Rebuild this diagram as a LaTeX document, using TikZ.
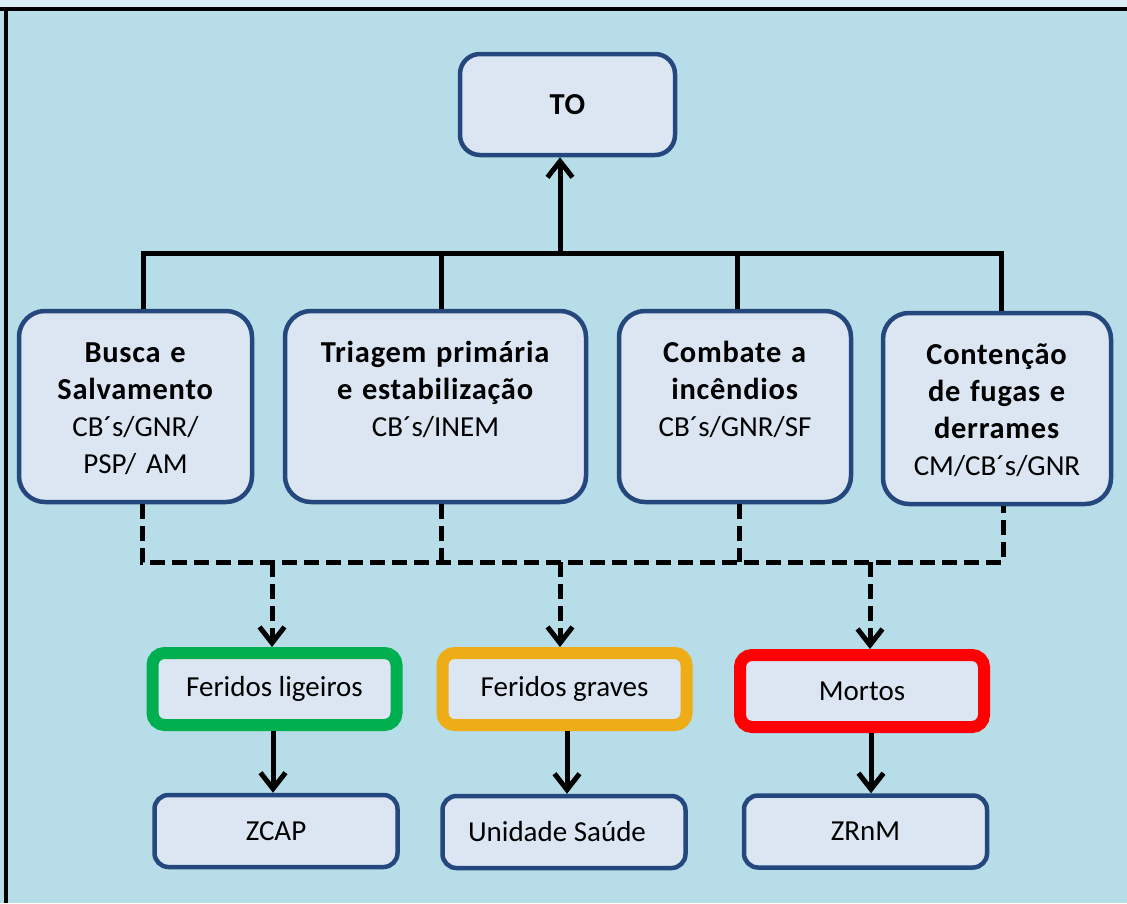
\documentclass[tikz,border=0pt]{standalone}
\usepackage{fontspec}
\setmainfont{Carlito}[BoldFeatures={Scale=1.05, LetterSpace=2.5}]
\usetikzlibrary{arrows.meta}

\definecolor{bgblue}{RGB}{183,221,232}
\definecolor{topstrip}{RGB}{219,238,243}
\definecolor{boxfill}{RGB}{220,230,242}
\definecolor{boxline}{RGB}{36,72,126}
\definecolor{lightgreen}{RGB}{0,176,80}
\definecolor{graveorange}{RGB}{238,173,23}
\definecolor{mortred}{RGB}{255,0,0}

\newcommand{\diagfont}{\fontsize{29}{37}\selectfont}
\newcommand{\boxlines}[1]{\parbox[c][139pt][t]{\linewidth}{\centering\strut #1}}

\begin{document}
\begin{tikzpicture}[x=1pt, y=-1pt,
        blockbox/.style={draw=boxline, line width=4.5pt, fill=boxfill, inner sep=0pt, align=center},
        taskbox/.style={blockbox, rounded corners=26pt, text width=#1, minimum height=191pt},
        endbox/.style={blockbox, rounded corners=14pt, minimum width=243pt, minimum height=72pt},
        casebox/.style={blockbox, line width=12pt, rounded corners=12pt, minimum width=244pt, minimum height=72pt},
        link/.style={black, line width=5pt},
        dlink/.style={black, line width=5pt, dash pattern=on 15pt off 7pt},
        arrowed/.style={-{Straight Barb[length=16pt, width=25pt]}},
        font=\diagfont]
        % Background and frame
        \fill[bgblue] (0,0) rectangle (1127,903);
        \fill[topstrip] (0,0) rectangle (1127,7);
        \fill[black] (0,7) rectangle (1127,11);
        \fill[black] (4,7) rectangle (8,903);
        \useasboundingbox (0,0) rectangle (1127,903);

        % Nodes
        \node[blockbox, rounded corners=20pt, minimum width=215pt, minimum height=101pt, font=\diagfont\bfseries] (to) at (567.5,104.5) {TO};

        \node[taskbox=233pt] (busca) at (135.5,406.5) {\boxlines{\textbf{Busca e}\\\textbf{Salvamento}\\CB´s/GNR/\\PSP/ AM}};
        \node[taskbox=301pt] (triagem) at (435.5,406.5) {\boxlines{\textbf{Triagem primária}\\\textbf{e estabilização}\\CB´s/INEM}};
        \node[taskbox=232pt] (combate) at (735,406.5) {\boxlines{\textbf{Combate a}\\\textbf{incêndios}\\CB´s/GNR/SF}};
        \node[taskbox=228pt] (contencao) at (997,408.5) {\boxlines{\textbf{Contenção}\\\textbf{de fugas e}\\\textbf{derrames}\\CM/CB´s/GNR}};

        \node[casebox, draw=lightgreen] (ligeiros) at (274.5,689) {Feridos ligeiros};
        \node[casebox, draw=graveorange] (graves) at (564.5,689) {Feridos graves};
        \node[casebox, draw=mortred] (mortos) at (862,691) {Mortos};

        \node[endbox] (zcap) at (276,831) {ZCAP};
        \node[endbox] (saude) at (564,832) {Unidade Saúde\hspace{14pt}};
        \node[endbox] (zrnm) at (865.5,831.5) {ZRnM};

        % Solid tree up to TO
        \coordinate (hub) at (560,253);
        \coordinate (s1) at (143,253);
        \coordinate (s2) at (441,253);
        \coordinate (s3) at (737,253);
        \coordinate (s4) at (1001,253);

        \draw[link] (s1 |- busca.north) -- (s1) -- (s4) -- (s4 |- contencao.north);
        \draw[link] (s2) -- (s2 |- triagem.north);
        \draw[link] (s3) -- (s3 |- combate.north);
        \draw[link, arrowed] (hub) -- (hub |- to.south);

        % Dashed collector
        \coordinate (d1) at (142,562);
        \coordinate (d2) at (441,562);
        \coordinate (d3) at (739,562);
        \coordinate (d4) at (1003,562);

        \draw[dlink] (d1 |- busca.south) -- (d1) -- (d4) -- (d4 |- contencao.south);
        \draw[dlink] (d2 |- triagem.south) -- (d2);
        \draw[dlink] (d3 |- combate.south) -- (d3);

        \coordinate (f1) at (272,562);
        \coordinate (f2) at (560,562);
        \coordinate (f3) at (870,562);
        \foreach \f/\c in {f1/ligeiros, f2/graves, f3/mortos}
            \draw[dlink, arrowed] (\f) -- (\f |- \c.north);

        % Down to destinations
        \coordinate (g1) at (273,760);
        \coordinate (g2) at (567,760);
        \coordinate (g3) at (871,760);
        \draw[link, arrowed] (g1 |- ligeiros.south) -- (g1 |- zcap.north);
        \draw[link, arrowed] (g2 |- graves.south) -- (g2 |- saude.north);
        \draw[link, arrowed] (g3 |- mortos.south) -- (g3 |- zrnm.north);
    \end{tikzpicture}
\end{document}
